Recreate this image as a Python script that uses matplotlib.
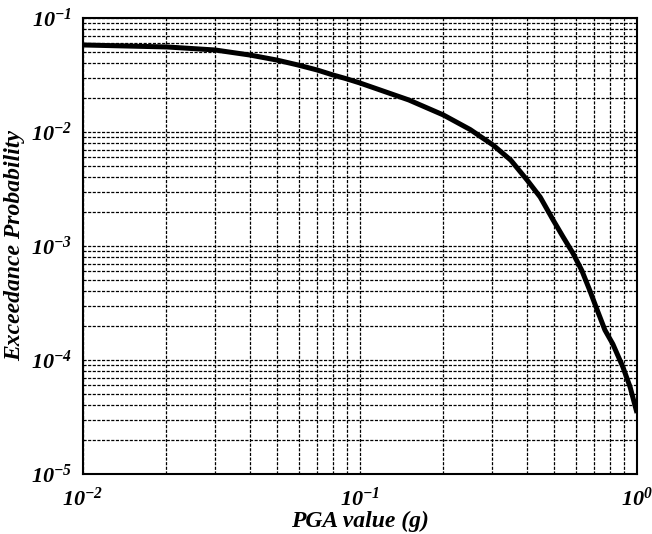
import numpy as np
import matplotlib
matplotlib.use("Agg")
import matplotlib.pyplot as plt
from matplotlib.ticker import LogLocator, FuncFormatter

plt.rcParams['font.family'] = 'Liberation Serif'
plt.rcParams['mathtext.fontset'] = 'custom'
plt.rcParams['mathtext.rm'] = 'Liberation Serif:bold:italic'
plt.rcParams['mathtext.it'] = 'Liberation Serif:bold:italic'
plt.rcParams['mathtext.bf'] = 'Liberation Serif:bold:italic'

# hazard curve: PGA (g) vs exceedance probability
pga = [0.01, 0.0201, 0.030, 0.0401, 0.050, 0.0597, 0.070, 0.080, 0.0898, 0.10,
       0.15, 0.20, 0.25, 0.302, 0.35, 0.401, 0.447, 0.498, 0.541, 0.587,
       0.632, 0.676, 0.718, 0.766, 0.818, 0.889, 0.944, 1.0]
prob = [0.0580, 0.0557, 0.0524, 0.0473, 0.0428, 0.0387, 0.0350, 0.0316, 0.0292, 0.0269,
        0.0191, 0.0141, 0.0105, 0.00769, 0.00567, 0.00379, 0.00269, 0.00169, 0.0012, 0.000865,
        0.00061, 0.000405, 0.000275, 0.000183, 0.000138, 8.7e-5, 5.8e-5, 3.43e-5]

fig = plt.figure(figsize=(6.52, 5.34), dpi=100)
ax = fig.add_axes([0.1273, 0.1124, 0.8497, 0.8539])

ax.loglog(pga, prob, color='black', linewidth=3.6, solid_capstyle='butt')

ax.set_xlim(1e-2, 1e0)
ax.set_ylim(1e-5, 1e-1)
for axis in (ax.xaxis, ax.yaxis):
    axis.set_major_locator(LogLocator(base=10, numticks=10))
    axis.set_minor_locator(LogLocator(base=10, subs=np.arange(2, 10), numticks=20))
    axis.set_major_formatter(FuncFormatter(lambda v, p: r'$10^{%d}$' % round(np.log10(v))))
    axis.set_minor_formatter(plt.NullFormatter())

ax.grid(True, which='both', color='black', linestyle=(0, (2.5, 1.2)), linewidth=0.9)
ax.tick_params(which='both', direction='in', length=0, labelsize=16, pad=8)
ax.tick_params(axis='x', pad=10)
for s in ax.spines.values():
    s.set_linewidth(1.5)

ax.set_xlabel('PGA value (g)', fontsize=17, fontweight='bold', fontstyle='italic', labelpad=0)
ax.set_ylabel('Exceedance Probability', fontsize=17, fontweight='bold', fontstyle='italic', labelpad=4)

fig.savefig('out.png', dpi=100)
